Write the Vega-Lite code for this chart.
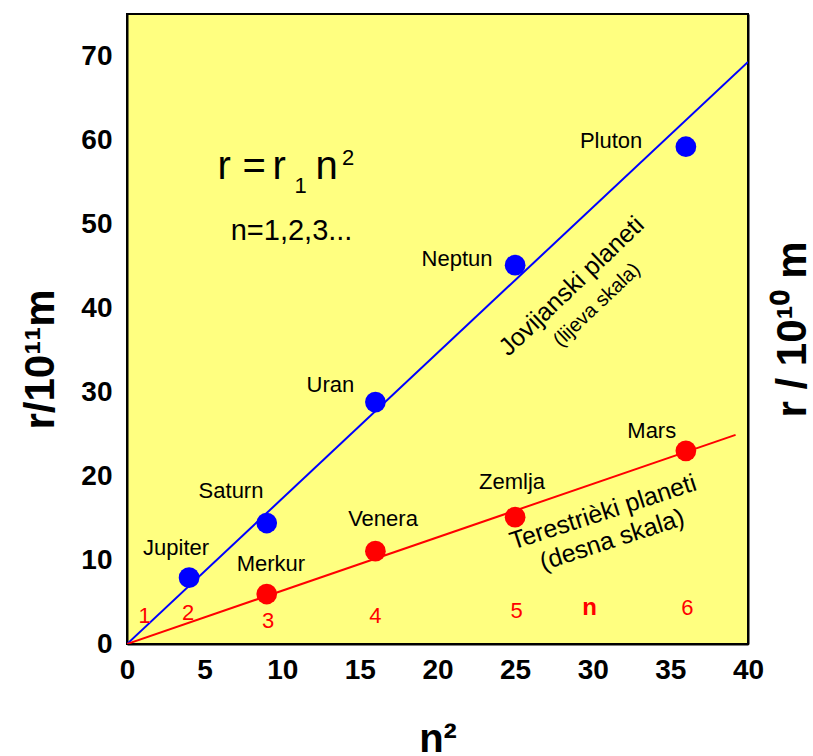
{
  "$schema": "https://vega.github.io/schema/vega-lite/v6.json",
  "width": 621,
  "height": 630,
  "autosize": {"type": "none"},
  "padding": {"left": 127, "top": 14, "right": 65, "bottom": 112},
  "background": "white",
  "config": {
    "font": "Liberation Sans",
    "view": {"fill": "#FFFF80", "stroke": "black", "strokeWidth": 2},
    "axis": {"grid": false, "ticks": false, "domainColor": "black", "domainWidth": 2, "labelColor": "black", "titleColor": "black", "labelFont": "Liberation Sans", "titleFont": "Liberation Sans"}
  },
  "datasets": {
    "planets": [
      {"name": "Jupiter", "x": 4, "y": 7.9, "series": "J"},
      {"name": "Saturn", "x": 9, "y": 14.4, "series": "J"},
      {"name": "Uran", "x": 16, "y": 28.8, "series": "J"},
      {"name": "Neptun", "x": 25, "y": 45.1, "series": "J"},
      {"name": "Pluton", "x": 36, "y": 59.2, "series": "J"},
      {"name": "Merkur", "x": 9, "y": 5.95, "series": "T"},
      {"name": "Venera", "x": 16, "y": 11.05, "series": "T"},
      {"name": "Zemlja", "x": 25, "y": 15.1, "series": "T"},
      {"name": "Mars", "x": 36, "y": 23.0, "series": "T"}
    ],
    "fits": [
      {"series": "J", "x": 0, "y": 0},
      {"series": "J", "x": 40, "y": 69.3},
      {"series": "T", "x": 0, "y": 0},
      {"series": "T", "x": 39.2, "y": 24.9}
    ],
    "yMajor": [{"y": 10}, {"y": 20}, {"y": 30}, {"y": 40}, {"y": 50}, {"y": 60}, {"y": 70}],
    "yMinor": [{"y": 5}, {"y": 15}, {"y": 25}, {"y": 35}, {"y": 45}, {"y": 55}, {"y": 65}],
    "xOut": [{"x": 0}, {"x": 5}, {"x": 10}, {"x": 15}, {"x": 20}, {"x": 25}, {"x": 30}, {"x": 35}, {"x": 40}],
    "xIn": [{"x": 1}, {"x": 4}, {"x": 9}, {"x": 16}, {"x": 25}, {"x": 36}],
    "names": [
      {"t": "Jupiter", "x": 3.16, "y": 11.4},
      {"t": "Saturn", "x": 6.7, "y": 18.2},
      {"t": "Uran", "x": 13.1, "y": 30.8},
      {"t": "Neptun", "x": 21.26, "y": 45.8},
      {"t": "Pluton", "x": 31.18, "y": 59.9},
      {"t": "Merkur", "x": 9.27, "y": 9.5},
      {"t": "Venera", "x": 16.49, "y": 14.9},
      {"t": "Zemlja", "x": 24.8, "y": 19.3},
      {"t": "Mars", "x": 33.8, "y": 25.4}
    ],
    "ndigits": [
      {"t": "1", "x": 1.13, "y": 3.33},
      {"t": "2", "x": 3.93, "y": 3.7},
      {"t": "3", "x": 9.09, "y": 2.74},
      {"t": "4", "x": 16.0, "y": 3.3},
      {"t": "5", "x": 25.1, "y": 3.93},
      {"t": "6", "x": 36.1, "y": 4.3}
    ],
    "nletter": [{"t": "n", "x": 29.8, "y": 4.3}],
    "formulaBig": [
      {"t": "r", "x": 5.83, "y": 55.4},
      {"t": "=", "x": 7.44, "y": 55.4},
      {"t": "r", "x": 9.37, "y": 55.4},
      {"t": "n", "x": 12.14, "y": 55.4}
    ],
    "formulaSmall": [
      {"t": "1", "x": 10.79, "y": 53.69},
      {"t": "2", "x": 13.85, "y": 57.02}
    ],
    "nlist": [{"t": "n=1,2,3...", "x": 10.6, "y": 48.1}],
    "jovText": [{"t": "Jovijanski planeti", "x": 28.63, "y": 42.6}],
    "jovSub": [{"t": "(lijeva skala)", "x": 30.27, "y": 40.36}],
    "terText": [
      {"t": "Terestrièki planeti", "x": 30.66, "y": 15.7},
      {"t": "(desna skala)", "x": 31.24, "y": 12.4}
    ]
  },
  "layer": [
    {
      "encoding": {
        "x": {
          "field": "x", "type": "quantitative",
          "scale": {"domain": [0, 40], "nice": false, "zero": false},
          "axis": {
            "title": "n²",
            "titleFontSize": 40, "titleFontWeight": "bold",
            "titleBaseline": "alphabetic", "titlePadding": 67,
            "values": [0, 5, 10, 15, 20, 25, 30, 35, 40],
            "labelFontSize": 28, "labelFontWeight": "bold",
            "labelFlush": false, "labelOverlap": false,
            "ticks": false,
            "labelPadding": 12
          }
        },
        "y": {
          "field": "y", "type": "quantitative",
          "scale": {"domain": [0, 75], "nice": false, "zero": false},
          "axis": {
            "title": "r/10¹¹m",
            "titleFontSize": 42, "titleFontWeight": "bold",
            "titleBaseline": "alphabetic", "titlePadding": 27,
            "titleY": 345,
            "values": [0, 10, 20, 30, 40, 50, 60, 70],
            "labelFontSize": 28, "labelFontWeight": "bold",
            "labelFlush": false, "labelOverlap": false,
            "ticks": false,
            "labelPadding": 15
          }
        }
      },
      "layer": [
        {
          "data": {"name": "yMajor"},
          "mark": {"type": "rule", "color": "black", "strokeWidth": 2},
          "encoding": {"x": {"datum": 0}, "x2": {"datum": 0.77}}
        },
        {
          "data": {"name": "yMinor"},
          "mark": {"type": "rule", "color": "black", "strokeWidth": 2},
          "encoding": {"x": {"datum": 0}, "x2": {"datum": 0.39}}
        },
        {
          "data": {"name": "yMajor"},
          "mark": {"type": "rule", "color": "black", "strokeWidth": 2},
          "encoding": {"x": {"datum": 40}, "x2": {"datum": 39.23}}
        },
        {
          "data": {"name": "yMinor"},
          "mark": {"type": "rule", "color": "black", "strokeWidth": 2},
          "encoding": {"x": {"datum": 40}, "x2": {"datum": 39.61}}
        },
        {
          "data": {"name": "xIn"},
          "mark": {"type": "rule", "color": "black", "strokeWidth": 2},
          "encoding": {"y": {"datum": 0}, "y2": {"datum": 1.43}}
        },
        {
          "data": {"name": "xOut"},
          "mark": {"type": "rule", "color": "black", "strokeWidth": 2, "clip": false},
          "encoding": {"y": {"datum": 0}, "y2": {"datum": -1.2}}
        },
        {
          "data": {"name": "fits"},
          "mark": {"type": "line", "strokeWidth": 2, "clip": true},
          "encoding": {
            "color": {"field": "series", "type": "nominal", "scale": {"domain": ["J", "T"], "range": ["#0000FF", "#FF0000"]}, "legend": null}
          }
        },
        {
          "data": {"name": "planets"},
          "mark": {"type": "circle", "size": 430, "opacity": 1},
          "encoding": {
            "color": {"field": "series", "type": "nominal", "scale": {"domain": ["J", "T"], "range": ["#0000FF", "#FF0000"]}, "legend": null}
          }
        },
        {
          "data": {"name": "names"},
          "mark": {"type": "text", "fontSize": 22, "color": "black", "align": "center", "baseline": "middle"},
          "encoding": {"text": {"field": "t"}}
        },
        {
          "data": {"name": "ndigits"},
          "mark": {"type": "text", "fontSize": 22, "color": "#FF0000", "align": "center", "baseline": "middle"},
          "encoding": {"text": {"field": "t"}}
        },
        {
          "data": {"name": "nletter"},
          "mark": {"type": "text", "fontSize": 24, "fontWeight": "bold", "color": "#FF0000", "align": "center", "baseline": "middle"},
          "encoding": {"text": {"field": "t"}}
        },
        {
          "data": {"name": "formulaBig"},
          "mark": {"type": "text", "fontSize": 40, "color": "black", "align": "left", "baseline": "alphabetic"},
          "encoding": {"text": {"field": "t"}}
        },
        {
          "data": {"name": "formulaSmall"},
          "mark": {"type": "text", "fontSize": 22, "color": "black", "align": "left", "baseline": "alphabetic"},
          "encoding": {"text": {"field": "t"}}
        },
        {
          "data": {"name": "nlist"},
          "mark": {"type": "text", "fontSize": 29, "color": "black", "align": "center", "baseline": "alphabetic"},
          "encoding": {"text": {"field": "t"}}
        },
        {
          "data": {"name": "jovText"},
          "mark": {"type": "text", "fontSize": 25, "color": "black", "align": "center", "baseline": "middle", "angle": 316.4},
          "encoding": {"text": {"field": "t"}}
        },
        {
          "data": {"name": "jovSub"},
          "mark": {"type": "text", "fontSize": 20, "color": "black", "align": "center", "baseline": "middle", "angle": 316.4},
          "encoding": {"text": {"field": "t"}}
        },
        {
          "data": {"name": "terText"},
          "mark": {"type": "text", "fontSize": 25, "color": "black", "align": "center", "baseline": "middle", "angle": 342},
          "encoding": {"text": {"field": "t"}}
        }
      ]
    },
    {
      "data": {"name": "planets"},
      "mark": {"type": "point", "opacity": 0},
      "encoding": {
        "y": {
          "field": "y", "type": "quantitative",
          "scale": {"domain": [0, 75], "nice": false, "zero": false},
          "axis": {
            "orient": "right",
            "title": "r / 10¹⁰ m",
            "titleFontSize": 42, "titleFontWeight": "bold",
            "titleAngle": 270, "titleBaseline": "alphabetic", "titlePadding": 57,
            "values": [10, 20, 30, 40, 50, 60, 70],
            "labels": false, "ticks": false
          }
        }
      }
    }
  ],
  "resolve": {"scale": {"y": "independent"}}
}
